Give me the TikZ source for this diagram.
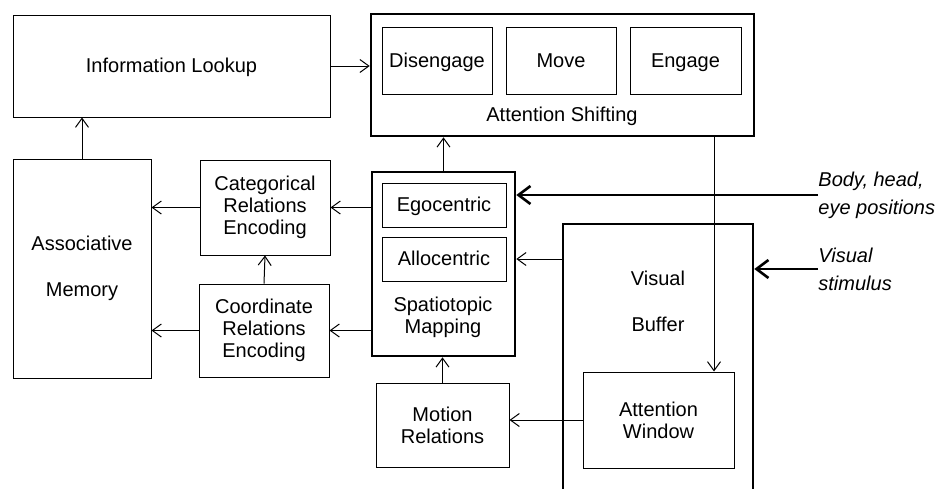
\documentclass[tikz,border=0pt]{standalone}
\usepackage{fontspec}
\setmainfont{Liberation Sans}
\usetikzlibrary{arrows.meta}

\tikzset{
    box/.style={draw, line width=0.5pt, inner sep=0pt, align=center},
    onebox/.style={box, text height=7.2pt, text depth=0.6pt},
    bigbox/.style={draw, line width=1.3pt, inner sep=0pt},
    inlabel/.style={align=left, inner sep=0pt, font=\itshape\fontsize{10}{14}\selectfont},
    flow/.style={->, line width=0.5pt},
    input/.style={-{Straight Barb[length=6pt,width=9pt]}, line width=1.3pt}
}

\begin{document}
\begin{tikzpicture}[x=0.5pt, y=-0.5pt, >={Straight Barb[length=4.5pt,width=6.5pt]},
    font=\fontsize{10}{11}\selectfont]
    \useasboundingbox (0,0) rectangle (940,488);

    % Attention shifting
    \node[bigbox, minimum width=191.5pt, minimum height=61pt] (shift) at (562.5,75) {};
    \node[onebox, minimum width=55pt, minimum height=33.5pt] (disengage) at (437,60.5) {Disengage};
    \node[onebox, minimum width=55pt, minimum height=33.5pt] (move) at (561,60.5) {Move};
    \node[onebox, minimum width=55.5pt, minimum height=33.5pt] (engage) at (685.5,60.5) {Engage};
    \node (shiftlabel) at (562,116) {Attention Shifting};

    % Left column
    \node[onebox, minimum width=158.5pt, minimum height=51pt] (lookup) at (171.5,66) {Information Lookup};
    \node[box, minimum width=69pt, minimum height=109.5pt, font=\fontsize{10}{23}\selectfont]
        (assoc) at (82,268.5) {Associative\\Memory};
    \node[box, minimum width=65pt, minimum height=47.5pt] (categ) at (265,207.5) {Categorical\\Relations\\Encoding};
    \node[box, minimum width=65pt, minimum height=46.5pt] (coord) at (264,330.5) {Coordinate\\Relations\\Encoding};

    % Spatiotopic mapping
    \node[bigbox, minimum width=71.5pt, minimum height=92pt] (spatio) at (443.5,264) {};
    \node[onebox, minimum width=62pt, minimum height=22pt] (ego) at (444,205) {Egocentric};
    \node[onebox, minimum width=62pt, minimum height=22pt] (allo) at (444,259) {Allocentric};
    \node[align=center] (spatiolabel) at (443,317) {Spatiotopic\\Mapping};
    \node[box, minimum width=66.5pt, minimum height=42pt] (motion) at (442.5,425) {Motion\\Relations};

    % Visual buffer, running off the bottom
    \begin{scope}
        \clip (0,0) rectangle (940,488);
        \node[bigbox, minimum width=95pt, minimum height=148pt] (buffer) at (658,372) {};
    \end{scope}
    \node[align=center, font=\fontsize{10}{23}\selectfont] (bufferlabel) at (658,301) {Visual\\Buffer};
    \node[box, minimum width=75.5pt, minimum height=48pt] (window) at (658.5,420) {Attention\\Window};
    \coordinate (drop) at (714,0);

    % Inputs
    \node[inlabel, anchor=west] (body) at (818,195) {Body, head,\\eye positions};
    \node[inlabel, anchor=west] (stim) at (818,269) {Visual\\stimulus};

    % Connections
    \draw[flow] (lookup.east) -- (lookup.east -| shift.west);
    \draw[flow] (assoc.north) -- (assoc.north |- lookup.south);
    \draw[flow] (categ.west) -- (categ.west -| assoc.east);
    \draw[flow] (coord.west) -- (coord.west -| assoc.east);
    \draw[flow] (coord.north) -- (categ.south);
    \draw[flow] (spatio.north) -- (spatio.north |- shift.south);
    \draw[flow] (categ.east -| spatio.west) -- (categ.east);
    \draw[flow] (coord.east -| spatio.west) -- (coord.east);
    \draw[flow] (motion.north) -- (motion.north |- spatio.south);
    \draw[flow] (shift.south -| drop) -- (window.north -| drop);
    \draw[flow] (buffer.west |- allo.east) -- (spatio.east |- allo.east);
    \draw[flow] (window.west) -- (window.west -| motion.east);
    \draw[input] (body.west) -- (body.west -| spatio.east);
    \draw[input] (stim.west) -- (stim.west -| buffer.east);
\end{tikzpicture}
\end{document}
